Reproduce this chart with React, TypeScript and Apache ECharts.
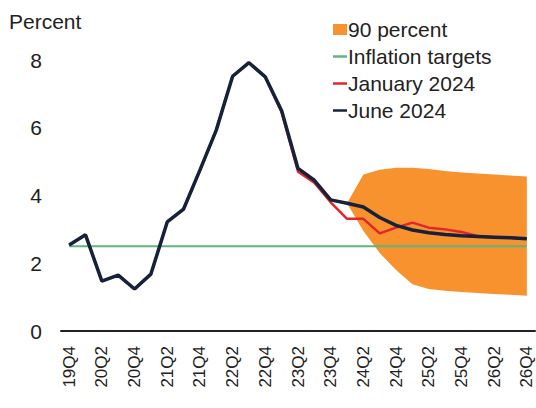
import React, { useEffect, useRef } from "react";
import * as echarts from "echarts";

const categories = [
  "19Q4", "20Q1", "20Q2", "20Q3", "20Q4", "21Q1", "21Q2", "21Q3", "21Q4",
  "22Q1", "22Q2", "22Q3", "22Q4", "23Q1", "23Q2", "23Q3", "23Q4",
  "24Q1", "24Q2", "24Q3", "24Q4", "25Q1", "25Q2", "25Q3", "25Q4",
  "26Q1", "26Q2", "26Q3", "26Q4",
];

const june2024 = [
  2.54, 2.84, 1.47, 1.65, 1.24, 1.68, 3.22, 3.6, 4.75,
  5.93, 7.52, 7.92, 7.5, 6.5, 4.8, 4.45, 3.87,
  3.77, 3.66, 3.35, 3.12, 2.98, 2.9, 2.85, 2.81,
  2.79, 2.77, 2.75, 2.72,
];

const january2024 = [
  2.54, 2.84, 1.47, 1.65, 1.24, 1.68, 3.22, 3.6, 4.75,
  5.93, 7.52, 7.92, 7.5, 6.45, 4.7, 4.38, 3.8,
  3.31, 3.31, 2.88, 3.05, 3.2, 3.05, 3.0, 2.92,
  2.8, 2.77, 2.75, 2.72,
];

const band90Lower = [
  null, null, null, null, null, null, null, null, null,
  null, null, null, null, null, null, null, null,
  3.77, 2.95, 2.3, 1.8, 1.38, 1.24, 1.19, 1.15,
  1.12, 1.09, 1.07, 1.04,
];

const band90Upper = [
  null, null, null, null, null, null, null, null, null,
  null, null, null, null, null, null, null, null,
  3.77, 4.62, 4.76, 4.82, 4.82, 4.78, 4.72, 4.68,
  4.65, 4.62, 4.59, 4.56,
];

const INFLATION_TARGET = 2.5;
const inflationTargets = categories.map(() => INFLATION_TARGET);

const yTicks = { min: 0, max: 8, interval: 2 };

const FONT = "Liberation Sans, Arial, sans-serif";

export default function App() {
  const ref = useRef<HTMLDivElement>(null);

  useEffect(() => {
    document.body.style.margin = "0";
    if (!ref.current) return;
    const chart = echarts.init(ref.current, undefined, { renderer: "svg" });
    const bandWidth = band90Upper.map((u, i) => {
      const l = band90Lower[i];
      return u == null || l == null ? null : +(u - l).toFixed(3);
    });
    const lineIcon = "path://M0,0 L14,0 L14,2.5 L0,2.5 Z";
    chart.setOption({
      animation: false,
      textStyle: { fontFamily: FONT },
      grid: { left: 61, right: 1, top: 60, bottom: 77, containLabel: false },
      graphic: [
        {
          type: "text",
          left: 9,
          top: 11,
          style: { text: "Percent", font: `21px ${FONT}`, fill: "#222" },
        },
      ],
      legend: {
        orient: "vertical",
        left: 328,
        top: 14,
        itemWidth: 14,
        itemHeight: 11,
        itemGap: 6,
        textStyle: { fontSize: 21, color: "#222", fontFamily: FONT, padding: [0, 0, 0, -4] },
        data: [
          { name: "90 percent", icon: "rect" },
          { name: "Inflation targets", icon: lineIcon },
          { name: "January 2024", icon: lineIcon },
          { name: "June 2024", icon: lineIcon },
        ],
      },
      xAxis: {
        type: "category",
        data: categories,
        boundaryGap: true,
        axisLine: { show: true, lineStyle: { color: "#222", width: 2 } },
        axisTick: { show: false },
        axisLabel: {
          interval: 1,
          rotate: 90,
          margin: 15,
          fontSize: 17,
          color: "#222",
          fontFamily: FONT,
        },
        splitLine: { show: false },
      },
      yAxis: {
        type: "value",
        min: yTicks.min,
        max: yTicks.max,
        interval: yTicks.interval,
        axisLine: { show: false },
        axisTick: { show: false },
        splitLine: { show: false },
        axisLabel: { fontSize: 21, color: "#222", margin: 19, fontFamily: FONT },
      },
      series: [
        {
          name: "bandLower",
          type: "line",
          data: band90Lower,
          stack: "band",
          symbol: "none",
          lineStyle: { opacity: 0 },
          silent: true,
          z: 1,
        },
        {
          name: "90 percent",
          type: "line",
          data: bandWidth,
          stack: "band",
          symbol: "none",
          itemStyle: { color: "#F7922E" },
          lineStyle: { opacity: 0 },
          areaStyle: { color: "#F7922E", opacity: 1 },
          z: 1,
        },
        {
          name: "Inflation targets",
          type: "line",
          data: inflationTargets,
          symbol: "none",
          itemStyle: { color: "#62B37F" },
          lineStyle: { color: "#62B37F", width: 2 },
          z: 2,
        },
        {
          name: "January 2024",
          type: "line",
          data: january2024,
          symbol: "none",
          itemStyle: { color: "#E3242B" },
          lineStyle: { color: "#E3242B", width: 2.5 },
          z: 3,
        },
        {
          name: "June 2024",
          type: "line",
          data: june2024,
          symbol: "none",
          itemStyle: { color: "#15223A" },
          lineStyle: { color: "#15223A", width: 3.5 },
          z: 4,
        },
      ],
    });
    return () => chart.dispose();
  }, []);

  return <div ref={ref} style={{ width: 536, height: 408 }} />;
}
